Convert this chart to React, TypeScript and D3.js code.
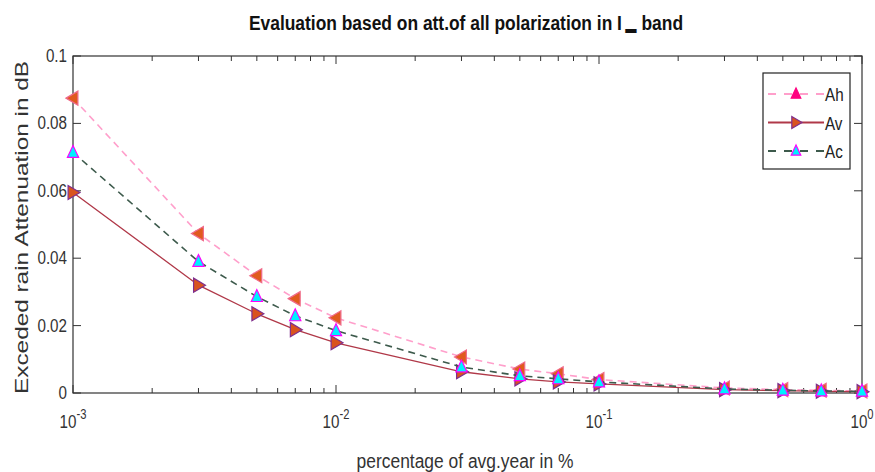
import React from 'react';
import * as d3 from 'd3';

const percentages = [0.001, 0.003, 0.005, 0.007, 0.01, 0.03, 0.05, 0.07, 0.1, 0.3, 0.5, 0.7, 1];
const ahValues = [0.0875, 0.0473, 0.0348, 0.028, 0.0223, 0.0107, 0.0071, 0.0057, 0.004, 0.0015, 0.001, 0.0008, 0.0006];
const avValues = [0.0595, 0.032, 0.0235, 0.0188, 0.0149, 0.0063, 0.0042, 0.0033, 0.0027, 0.001, 0.0007, 0.0005, 0.0004];
const acValues = [0.0714, 0.039, 0.0286, 0.0229, 0.0185, 0.0077, 0.0051, 0.0042, 0.0033, 0.0012, 0.0008, 0.0006, 0.0005];
const yTicks = [0, 0.02, 0.04, 0.06, 0.08, 0.1];
const yTickLabels = ['0', '0.02', '0.04', '0.06', '0.08', '0.1'];
const xDecades = [0.001, 0.01, 0.1, 1];
const xDecadeExps = ['-3', '-2', '-1', '0'];
const legendNames = ['Ah', 'Av', 'Ac'];

const W = 875;
const H = 472;
const plot = { left: 73, right: 862, top: 56, bottom: 393 };
const font = "'Liberation Sans', Arial, sans-serif";
const axisColor = '#333';

const x = d3.scaleLog().domain([0.001, 1]).range([plot.left, plot.right]);
const y = d3.scaleLinear().domain([0, 0.1]).range([plot.bottom, plot.top]);

type Shape = 'left' | 'right' | 'up';

const tri = (shape: Shape, cx: number, cy: number, s: number) => {
  let pts: [number, number][];
  if (shape === 'left') pts = [[cx - s, cy], [cx + s * 0.7, cy - s], [cx + s * 0.7, cy + s]];
  else if (shape === 'right') pts = [[cx + s, cy], [cx - s * 0.7, cy - s], [cx - s * 0.7, cy + s]];
  else pts = [[cx, cy - s], [cx - s * 0.8, cy + s * 0.7], [cx + s * 0.8, cy + s * 0.7]];
  return pts.map((p) => p.join(',')).join(' ');
};

// condensed looking text: draw at origin then squeeze horizontally
const Narrow: React.FC<{
  x: number;
  y: number;
  size: number;
  sx?: number;
  anchor?: 'start' | 'middle' | 'end';
  weight?: string;
  fill?: string;
  children: React.ReactNode;
}> = ({ x: tx, y: ty, size, sx = 0.8, anchor = 'start', weight = 'normal', fill = '#333', children }) => (
  <g transform={`translate(${tx},${ty}) scale(${sx},1)`}>
    <text x={0} y={0} textAnchor={anchor} fontFamily={font} fontSize={size} fontWeight={weight} fill={fill}>
      {children}
    </text>
  </g>
);

const series = [
  { name: 'Ah', values: ahValues, stroke: '#ff9fcb', dash: '7,5', width: 1.6, shape: 'left' as Shape, fill: '#e05a1e', edge: '#f06a8a' },
  { name: 'Av', values: avValues, stroke: '#b03848', dash: undefined, width: 1.3, shape: 'right' as Shape, fill: '#d9531e', edge: '#7e2f8e' },
  { name: 'Ac', values: acValues, stroke: '#3d5a4c', dash: '7,5', width: 1.6, shape: 'up' as Shape, fill: '#00f0ff', edge: '#ff00ff' },
];

const legendMarkers = [
  { shape: 'up' as Shape, fill: '#ff0080', edge: '#ff0080' },
  { shape: 'right' as Shape, fill: '#d9531e', edge: '#7e2f8e' },
  { shape: 'up' as Shape, fill: '#00f0ff', edge: '#ff00ff' },
];

const App: React.FC = () => {
  const line = d3
    .line<number>()
    .x((_, i) => x(percentages[i]))
    .y((d) => y(d));

  // minor ticks 2..9 in each decade
  const minor: number[] = [];
  xDecades.slice(0, 3).forEach((d) => {
    for (let k = 2; k <= 9; k++) minor.push(d * k);
  });

  return (
    <svg width={W} height={H} style={{ position: 'absolute', left: 0, top: 0, background: '#fff' }}>
      <rect width={W} height={H} fill="#fff" />
      {/* title */}
      <Narrow x={466} y={30} size={20} sx={0.87} anchor="middle" weight="bold" fill="#111">
        Evaluation based on att.of all polarization in I
        <tspan dx={4} dy={3} fontSize={13}>▬</tspan>
        <tspan dy={-3}> band</tspan>
      </Narrow>

      {/* axes box */}
      <rect x={plot.left} y={plot.top} width={plot.right - plot.left} height={plot.bottom - plot.top} fill="none" stroke={axisColor} strokeWidth={1.2} />

      {/* y ticks */}
      {yTicks.map((t, i) => (
        <g key={'y' + i}>
          <line x1={plot.left} x2={plot.left + 8} y1={y(t)} y2={y(t)} stroke={axisColor} />
          <line x1={plot.right} x2={plot.right - 8} y1={y(t)} y2={y(t)} stroke={axisColor} />
          <Narrow x={plot.left - 6} y={y(t) + 6} size={19} anchor="end">
            {yTickLabels[i]}
          </Narrow>
        </g>
      ))}

      {/* x ticks */}
      {xDecades.map((d, i) => (
        <g key={'x' + i}>
          <line x1={x(d)} x2={x(d)} y1={plot.bottom} y2={plot.bottom - 8} stroke={axisColor} />
          <line x1={x(d)} x2={x(d)} y1={plot.top} y2={plot.top + 8} stroke={axisColor} />
          <Narrow x={x(d)} y={428} size={19} anchor="middle">
            10<tspan dy={-9} fontSize={14}>{xDecadeExps[i]}</tspan>
          </Narrow>
        </g>
      ))}
      {minor.map((m, i) => (
        <g key={'m' + i}>
          <line x1={x(m)} x2={x(m)} y1={plot.bottom} y2={plot.bottom - 5} stroke={axisColor} />
          <line x1={x(m)} x2={x(m)} y1={plot.top} y2={plot.top + 5} stroke={axisColor} />
        </g>
      ))}

      {/* series */}
      {series.map((s) => (
        <g key={s.name}>
          <path d={line(s.values) || ''} fill="none" stroke={s.stroke} strokeWidth={s.width} strokeDasharray={s.dash} />
          {s.values.map((v, i) => (
            <polygon key={i} points={tri(s.shape, x(percentages[i]), y(v), 7)} fill={s.fill} stroke={s.edge} strokeWidth={1.2} />
          ))}
        </g>
      ))}

      {/* legend */}
      <rect x={763} y={73} width={87} height={96} fill="#fff" stroke="#222" strokeWidth={1.2} />
      {series.map((s, i) => {
        const ly = 94 + i * 28.5;
        const m = legendMarkers[i];
        return (
          <g key={'l' + s.name}>
            <line x1={768} x2={824} y1={ly} y2={ly} stroke={s.stroke} strokeWidth={s.width + 0.6} strokeDasharray={s.dash ? '8,8' : undefined} />
            <polygon points={tri(m.shape, 796, ly, 6)} fill={m.fill} stroke={m.edge} strokeWidth={1.2} />
            <Narrow x={825} y={ly + 7} size={19} fill="#222">
              {legendNames[i]}
            </Narrow>
          </g>
        );
      })}

      {/* axis labels */}
      <Narrow x={465} y={468} size={21} sx={0.83} anchor="middle">
        percentage of avg.year in %
      </Narrow>
      <text
        transform={`translate(28,${(plot.top + plot.bottom) / 2 + 3}) rotate(-90)`}
        textAnchor="middle"
        fontFamily={font}
        fontSize={19}
        textLength={333}
        lengthAdjust="spacingAndGlyphs"
        fill="#333"
      >
        Exceded rain Attenuation in dB
      </text>
    </svg>
  );
};

export default App;
